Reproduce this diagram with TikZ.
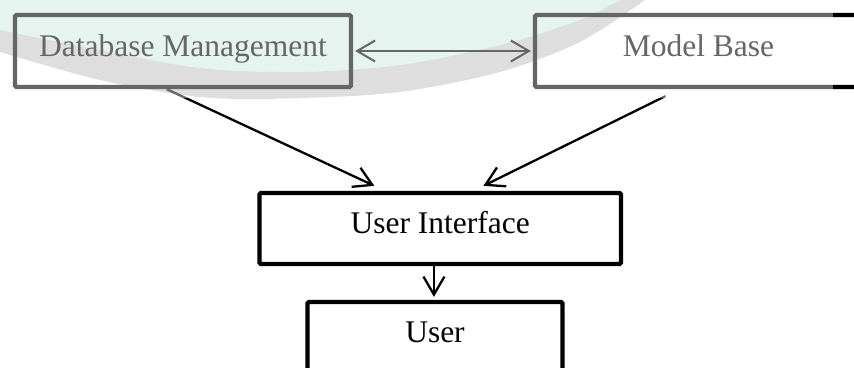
\documentclass[tikz,border=0pt]{standalone}
\usepackage{fontspec}
\setmainfont{Liberation Serif}
\usetikzlibrary{arrows.meta,calc}

\definecolor{wmgreen}{RGB}{212,237,227}
\definecolor{wmband}{RGB}{200,200,200}

\tikzset{
  block/.style={draw=black, line width=4.3pt, rounded corners=1.5pt, rectangle,
    inner sep=0pt, font=\fontsize{31.5}{36}\selectfont,
    text height=22pt, text depth=12pt},
  link/.style={line width=2.3pt, -{Straight Barb[length=18pt,width=21pt,line width=2.3pt]}},
  twoway/.style={line width=2pt,
    {Straight Barb[length=18pt,width=21pt,line width=2pt]}-{Straight Barb[length=18pt,width=21pt,line width=2pt]}}
}

\begin{document}
\begin{tikzpicture}[x=1pt,y=-1pt]
\useasboundingbox (0,0) rectangle (854,367);
\clip (0,0) rectangle (854,367);

% faint logo in the upper band: mint field and grey swoosh
\fill[wmgreen] plot[smooth] coordinates {(0,30) (100,50) (200,68) (300,72) (400,65) (500,45) (580,20) (620,0)}
  -- (0,0) -- cycle;
\fill[wmband] plot[smooth] coordinates {(0,30) (100,50) (200,68) (300,72) (400,65) (500,45) (580,20) (620,0)}
  -- (645,0)
  -- plot[smooth] coordinates {(645,0) (580,42) (500,72) (400,92) (300,98) (200,97) (100,80) (0,52)}
  -- cycle;

% boxes
\node[block, minimum width=336pt, minimum height=72pt] (dm) at (183,51) {Database Management};
\node[block, minimum width=327pt, minimum height=72pt] (mb) at (698.5,51) {Model Base};
\node[block, minimum width=361.5pt, minimum height=71pt] (ui) at (440.25,228.5) {User Interface};
\node[block, minimum width=255pt, minimum height=70pt] (user) at (435,337) {User};

% connector end points
\coordinate (dmout) at ($(dm.south west)!0.452!(dm.south east)$);
\coordinate (mbout) at ([yshift=-7pt]$(mb.south west)!0.40!(mb.south east)$);
\coordinate (uiinl) at ([yshift=5pt]$(ui.north west)!0.32!(ui.north east)$);
\coordinate (uiinr) at ([yshift=5pt]$(ui.north west)!0.618!(ui.north east)$);
\coordinate (uiout) at ($(ui.south west)!0.4827!(ui.south east)$);

% connectors
\draw[twoway, shorten <=2pt, shorten >=2pt] (dm.east) -- (mb.west);
\draw[link] (dmout) -- (uiinl);
\draw[link] (mbout) -- (uiinr);
\draw[link, shorten >=3pt] (uiout) -- (uiout |- user.north);

% the logo washes out everything beneath it
\fill[white, opacity=0.4] (0,0) rectangle (833,98);
\end{tikzpicture}
\end{document}
